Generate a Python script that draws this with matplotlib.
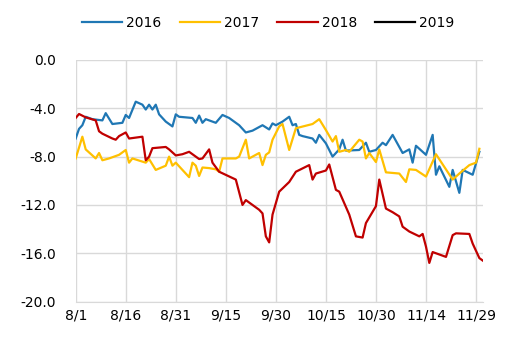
import matplotlib
matplotlib.use("Agg")
import matplotlib.pyplot as plt

# x = days since 8/1
tick_labels = ["8/1", "8/16", "8/31", "9/15", "9/30", "10/15", "10/30", "11/14", "11/29"]
y_ticks = [0.0, -4.0, -8.0, -12.0, -16.0, -20.0]

days_2016 = [0, 1, 2, 3, 4, 5, 8, 9, 11, 14, 15, 16, 18, 20, 21, 22, 23, 24, 25, 27, 29, 30,
             31, 35, 36, 37, 38, 39, 42, 44, 46, 49, 51, 53, 56, 58, 59, 60, 62, 64, 65, 66,
             67, 68, 71, 72, 73, 75, 77, 79, 80, 81, 85, 87, 88, 90, 92, 93, 95, 98, 100,
             101, 102, 105, 107, 108, 109, 112, 113, 115, 116, 119, 121]
vals_2016 = [-6.5, -5.7, -5.4, -4.7, -4.8, -4.9, -5.0, -4.4, -5.3, -5.2, -4.55, -4.8, -3.45,
             -3.7, -4.1, -3.7, -4.1, -3.7, -4.5, -5.1, -5.5, -4.5, -4.7, -4.8, -5.2, -4.6,
             -5.2, -4.9, -5.2, -4.55, -4.8, -5.4, -6.0, -5.85, -5.4, -5.75, -5.25, -5.4,
             -5.1, -4.7, -5.4, -5.3, -6.2, -6.3, -6.5, -6.85, -6.2, -6.9, -8.0, -7.4, -6.6,
             -7.5, -7.45, -6.85, -7.6, -7.45, -6.85, -7.05, -6.2, -7.7, -7.4, -8.5, -7.1,
             -7.85, -6.2, -9.5, -8.8, -10.5, -9.1, -11.0, -9.1, -9.5, -7.6]

days_2017 = [0, 2, 3, 6, 7, 8, 10, 13, 15, 16, 17, 21, 22, 24, 27, 28, 29, 30, 32, 34, 35,
             36, 37, 38, 40, 42, 43, 44, 48, 49, 51, 52, 55, 56, 57, 58, 59, 61, 62, 64, 66,
             71, 73, 75, 77, 78, 79, 81, 82, 85, 86, 87, 88, 90, 91, 93, 97, 99, 100, 102,
             105, 108, 113, 115, 118, 120, 121]
vals_2017 = [-8.15, -6.35, -7.4, -8.15, -7.7, -8.3, -8.15, -7.85, -7.45, -8.5, -8.15, -8.5,
             -8.2, -9.1, -8.75, -8.0, -8.75, -8.5, -9.1, -9.7, -8.5, -8.75, -9.6, -8.9,
             -8.95, -9.05, -9.25, -8.15, -8.15, -8.0, -6.6, -8.15, -7.7, -8.7, -7.85, -7.65,
             -6.6, -5.5, -5.3, -7.45, -5.65, -5.3, -4.9, -5.8, -6.75, -6.3, -7.6, -7.45,
             -7.6, -6.6, -6.75, -8.15, -7.7, -8.45, -7.4, -9.3, -9.4, -10.1, -9.05, -9.1,
             -9.65, -7.8, -9.9, -9.4, -8.7, -8.5, -7.35]

days_2018 = [0, 1, 3, 6, 7, 8, 11, 12, 13, 15, 16, 20, 21, 22, 23, 27, 28, 30, 32, 34, 37,
             38, 40, 41, 43, 48, 50, 51, 55, 56, 57, 58, 59, 61, 64, 66, 70, 71, 72, 75, 76,
             78, 79, 82, 84, 86, 87, 90, 91, 93, 95, 97, 98, 100, 103, 104, 105, 106, 107,
             111, 113, 114, 118, 119, 121, 122]
vals_2018 = [-4.8, -4.47, -4.75, -5.0, -5.9, -6.1, -6.5, -6.6, -6.3, -6.0, -6.5, -6.35, -8.3,
             -8.0, -7.3, -7.2, -7.4, -7.9, -7.8, -7.6, -8.2, -8.15, -7.4, -8.5, -9.25, -9.9,
             -12.0, -11.6, -12.4, -12.7, -14.6, -15.1, -12.8, -10.9, -10.1, -9.25, -8.7,
             -9.9, -9.4, -9.15, -8.65, -10.75, -10.9, -12.8, -14.6, -14.7, -13.5, -12.1,
             -9.9, -12.3, -12.6, -12.95, -13.8, -14.2, -14.6, -14.4, -15.45, -16.8, -15.9,
             -16.3, -14.5, -14.35, -14.4, -15.2, -16.4, -16.6]

days_2019 = []
vals_2019 = []

series = [("2016", days_2016, vals_2016, "#1f77b4"),
          ("2017", days_2017, vals_2017, "#ffc000"),
          ("2018", days_2018, vals_2018, "#c00000"),
          ("2019", days_2019, vals_2019, "#000000")]

plt.rcParams["font.family"] = ["DejaVu Sans"]
fig = plt.figure(figsize=(5.22, 3.44), dpi=100)
ax = fig.add_axes([0.145, 0.1233, 0.7797, 0.7023])

for name, d, v, c in series:
    ax.plot(d, v, color=c, lw=1.6, label=name, solid_joinstyle="round")

ax.set_xlim(0, 122)
ax.set_ylim(-20, 0)
ax.set_xticks([15 * i for i in range(len(tick_labels))])
ax.set_xticklabels(tick_labels)
ax.set_yticks(y_ticks)
ax.set_yticklabels([f"{t:.1f}" for t in y_ticks])
ax.grid(True, color="#d9d9d9", lw=1.0)
ax.set_axisbelow(True)
for s in ["left", "right", "top"]:
    ax.spines[s].set_visible(False)
ax.spines["bottom"].set_color("#d9d9d9")
ax.tick_params(axis="both", length=0, labelsize=10, colors="#000000")
ax.tick_params(axis="y", pad=14)
ax.tick_params(axis="x", pad=5)

fig.legend(loc="center", bbox_to_anchor=(0.514, 0.933), ncol=4, frameon=False,
           fontsize=10, handlelength=2.9, handletextpad=0.3, columnspacing=1.3)

fig.savefig("out.png", dpi=100)
